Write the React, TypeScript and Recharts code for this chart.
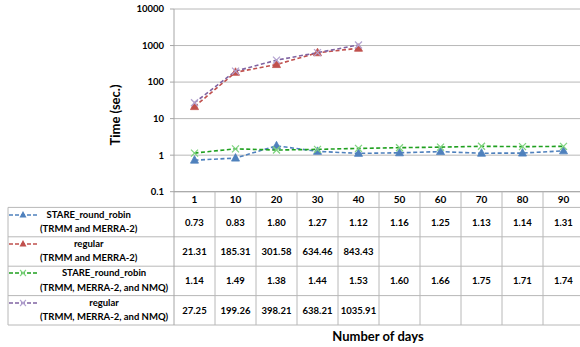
import React from "react";
import { ComposedChart, Line, XAxis, YAxis, CartesianGrid } from "recharts";

const days = ["1", "10", "20", "30", "40", "50", "60", "70", "80", "90"];
const stareTM = [0.73, 0.83, 1.8, 1.27, 1.12, 1.16, 1.25, 1.13, 1.14, 1.31];
const regularTM = [21.31, 185.31, 301.58, 634.46, 843.43];
const stareTMN = [1.14, 1.49, 1.38, 1.44, 1.53, 1.6, 1.66, 1.75, 1.71, 1.74];
const regularTMN = [27.25, 199.26, 398.21, 638.21, 1035.91];
const yTicks = [0.1, 1, 10, 100, 1000, 10000];

const seriesInfo = [
  { key: "s1", values: stareTM, color: "#4f81bd", markColor: "#4f81bd", marker: "tri", l1: "STARE_round_robin", l2: "(TRMM and MERRA-2)" },
  { key: "s2", values: regularTM, color: "#c0504d", markColor: "#c0504d", marker: "tri", l1: "regular", l2: "(TRMM and MERRA-2)" },
  { key: "s3", values: stareTMN, color: "#1fa01f", markColor: "#7fd47f", marker: "x", l1: "STARE_round_robin", l2: "(TRMM, MERRA-2, and NMQ)" },
  { key: "s4", values: regularTMN, color: "#8064a2", markColor: "#b3a2d0", marker: "x", l1: "regular", l2: "(TRMM, MERRA-2, and NMQ)" },
];

const data = days.map((d, i) => {
  const row: any = { day: d };
  seriesInfo.forEach((s) => {
    row[s.key] = i < s.values.length ? s.values[i] : null;
  });
  return row;
});

const FONT = "Lato, 'Open Sans', sans-serif";
const PLOT_L = 174;
const PLOT_T = 9;
const PLOT_B = 191.7;
const COL_W = 41;
const ROW_TOP = 207.4;
const ROW_H = 29.4;
const TABLE_L = 8;
const GRID = "#b8b8b8";
const AXIS = "#a6a6a6";

function makeDot(marker: string, color: string) {
  return (props: any) => {
    const { cx, cy, key } = props;
    if (cx == null || cy == null || props.value == null) return <g key={key} />;
    if (marker === "tri") {
      return (
        <polygon
          key={key}
          points={`${cx},${cy - 4.5} ${cx - 4},${cy + 3} ${cx + 4},${cy + 3}`}
          fill={color}
          stroke={color}
          strokeWidth={0.8}
        />
      );
    }
    return (
      <g key={key} stroke={color} strokeWidth={1.2}>
        <line x1={cx - 3.5} y1={cy - 3.5} x2={cx + 3.5} y2={cy + 3.5} />
        <line x1={cx - 3.5} y1={cy + 3.5} x2={cx + 3.5} y2={cy - 3.5} />
      </g>
    );
  };
}

function Swatch({ s }: { s: any }) {
  const cx = 14;
  const cy = 5;
  return (
    <svg width={30} height={10} style={{ display: "block" }}>
      <line x1={0} y1={cy} x2={28} y2={cy} stroke={s.color} strokeWidth={1.5} strokeDasharray="4 2" />
      {s.marker === "tri" ? (
        <polygon points={`${cx},${cy - 4} ${cx - 3.5},${cy + 2.5} ${cx + 3.5},${cy + 2.5}`} fill={s.markColor} />
      ) : (
        <g stroke={s.markColor} strokeWidth={1.1}>
          <line x1={cx - 3} y1={cy - 3} x2={cx + 3} y2={cy + 3} />
          <line x1={cx - 3} y1={cy + 3} x2={cx + 3} y2={cy - 3} />
        </g>
      )}
    </svg>
  );
}

export default function App() {
  const tableBottom = ROW_TOP + ROW_H * seriesInfo.length;
  const colXs = days.map((_, i) => PLOT_L + COL_W * i);
  return (
    <div style={{ position: "absolute", left: 0, top: 0, width: 580, height: 347, overflow: "hidden", background: "#fff", fontFamily: FONT }}>
      <ComposedChart
        width={590}
        height={347}
        data={data}
        margin={{ top: PLOT_T, right: 590 - PLOT_L - COL_W * 10, bottom: 347 - PLOT_B - 16, left: 0 }}
      >
        <CartesianGrid vertical={false} stroke={GRID} strokeWidth={1} />
        <XAxis
          dataKey="day"
          scale="band"
          height={16}
          tickLine={false}
          tickSize={0}
          tickMargin={4}
          axisLine={{ stroke: AXIS }}
          interval={0}
          tick={{ fontSize: 10, fontWeight: 700, fill: "#000", fontFamily: FONT }}
        />
        <YAxis
          scale="log"
          domain={[0.1, 10000]}
          ticks={yTicks}
          allowDataOverflow
          width={PLOT_L}
          tickSize={4}
          tickMargin={6}
          tickLine={{ stroke: AXIS }}
          axisLine={{ stroke: AXIS }}
          interval={0}
          tickFormatter={(v: number) => String(v)}
          tick={{ fontSize: 9.5, fontWeight: 700, fill: "#000", fontFamily: FONT }}
        />
        {seriesInfo.map((s) => (
          <Line
            key={s.key}
            dataKey={s.key}
            stroke={s.color}
            strokeWidth={1.6}
            strokeDasharray="4 2.5"
            dot={makeDot(s.marker, s.markColor)}
            activeDot={false}
            connectNulls={false}
            isAnimationActive={false}
          />
        ))}
      </ComposedChart>

      <svg width={580} height={347} style={{ position: "absolute", left: 0, top: 0, pointerEvents: "none" }}>
        {seriesInfo.map((_, r) => (
          <line key={"h" + r} x1={TABLE_L} x2={590} y1={ROW_TOP + ROW_H * r} y2={ROW_TOP + ROW_H * r} stroke={GRID} />
        ))}
        <line x1={TABLE_L} x2={590} y1={tableBottom} y2={tableBottom} stroke={GRID} />
        <line x1={TABLE_L} x2={TABLE_L} y1={ROW_TOP} y2={tableBottom} stroke={GRID} />
        <line x1={PLOT_L} x2={PLOT_L} y1={PLOT_B} y2={tableBottom} stroke={AXIS} />
        {colXs.slice(1).map((x, i) => (
          <line key={"v" + i} x1={x} x2={x} y1={PLOT_B} y2={tableBottom} stroke={GRID} />
        ))}
        <text
          x={115}
          y={115}
          transform="rotate(-90 115 115)"
          textAnchor="middle"
          dominantBaseline="central"
          fontSize={13}
          fontWeight={700}
          fontFamily={FONT}
        >
          Time (sec.)
        </text>
        <text x={378} y={336} textAnchor="middle" dominantBaseline="central" fontSize={13} fontWeight={700} fontFamily={FONT}>
          Number of days
        </text>
      </svg>

      {seriesInfo.map((s, r) => (
        <div
          key={"row" + r}
          style={{
            position: "absolute",
            left: TABLE_L,
            top: ROW_TOP + ROW_H * r,
            width: PLOT_L - TABLE_L,
            height: ROW_H,
            display: "flex",
            alignItems: "center",
          }}
        >
          <div style={{ position: "relative", marginLeft: 32, textAlign: "center", fontSize: 9.5, fontWeight: 700, lineHeight: "14.4px", whiteSpace: "nowrap" }}>
            <div style={{ position: "absolute", left: -31, top: 2 }}>
              <Swatch s={s} />
            </div>
            <div>{s.l1}</div>
            <div>{s.l2}</div>
          </div>
        </div>
      ))}

      {seriesInfo.map((s, r) =>
        s.values.map((v, i) => (
          <div
            key={"c" + r + "-" + i}
            style={{
              position: "absolute",
              left: colXs[i],
              top: ROW_TOP + ROW_H * r,
              width: COL_W,
              height: ROW_H,
              display: "flex",
              alignItems: "center",
              justifyContent: "center",
              fontSize: 9.5,
              fontWeight: 700,
            }}
          >
            {v.toFixed(2)}
          </div>
        ))
      )}
    </div>
  );
}
